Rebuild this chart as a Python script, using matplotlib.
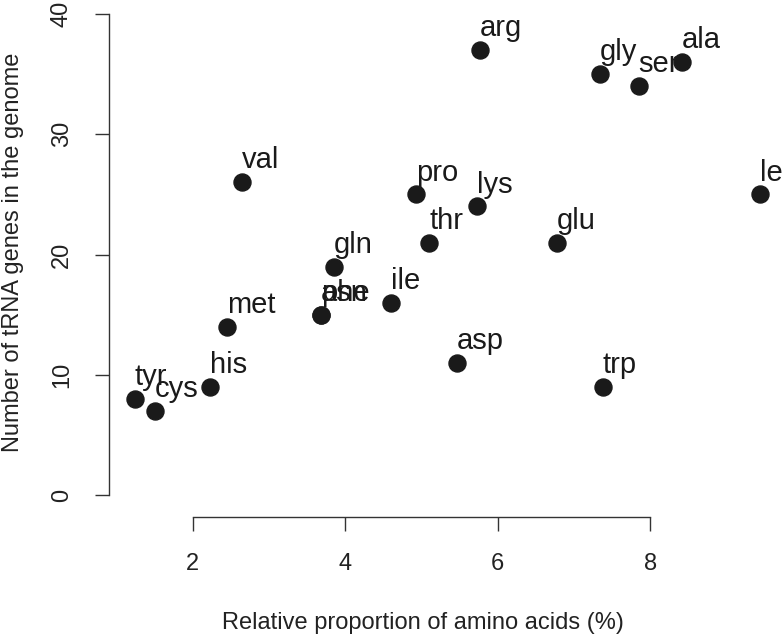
import matplotlib
matplotlib.use("Agg")
import matplotlib.pyplot as plt

plt.rcParams["font.family"] = ["Liberation Sans", "DejaVu Sans"]

amino_acids = ["tyr", "cys", "his", "met", "val", "asn", "phe", "gln", "ile", "pro",
               "thr", "asp", "arg", "lys", "glu", "gly", "trp", "ser", "ala", "leu"]
proportion = [1.24, 1.50, 2.22, 2.45, 2.64, 3.68, 3.68, 3.85, 4.60, 4.93,
              5.10, 5.46, 5.77, 5.73, 6.78, 7.34, 7.38, 7.85, 8.42, 9.44]
trna_genes = [8, 7, 9, 14, 26, 15, 15, 19, 16, 25,
              21, 11, 37, 24, 21, 35, 9, 34, 36, 25]

x_ticks = [2, 4, 6, 8]
y_ticks = [0, 10, 20, 30, 40]

fig = plt.figure(figsize=(7.82, 6.36), dpi=100)
ax = fig.add_axes([109 / 782, 0.1871, 0.8772, 0.8214])
ax.set_xlim(0.9, 9.9)
ax.set_ylim(-1.8, 41.6)

ax.scatter(proportion, trna_genes, s=150, color="#1a1a1a", zorder=3, clip_on=False)
for name, x, y in zip(amino_acids, proportion, trna_genes):
    ax.annotate(name, (x, y), xytext=(0, 10), textcoords="offset points",
                ha="left", va="baseline", fontsize=21, color="#1a1a1a",
                annotation_clip=False)

for side in ["top", "right"]:
    ax.spines[side].set_visible(False)
ax.spines["bottom"].set_bounds(2, 8)
ax.spines["left"].set_bounds(0, 40)
for side in ["bottom", "left"]:
    ax.spines[side].set_color("#333333")
    ax.spines[side].set_linewidth(1.0)

ax.set_xticks(x_ticks)
ax.set_yticks(y_ticks)
ax.tick_params(direction="out", length=10, width=1.0, color="#333333",
               labelsize=17, labelcolor="#222222", pad=16)
for lab in ax.get_yticklabels():
    lab.set_rotation(90)
    lab.set_va("center")

fig.text(423 / 782, 1 - 629 / 636, "Relative proportion of amino acids (%)",
         ha="center", va="baseline", fontsize=17, color="#222222")
fig.text(13 / 782, 1 - 252 / 636, "Number of tRNA genes in the genome",
         ha="center", va="center", rotation=90, fontsize=17, color="#222222")

fig.savefig("out.png", dpi=100)
